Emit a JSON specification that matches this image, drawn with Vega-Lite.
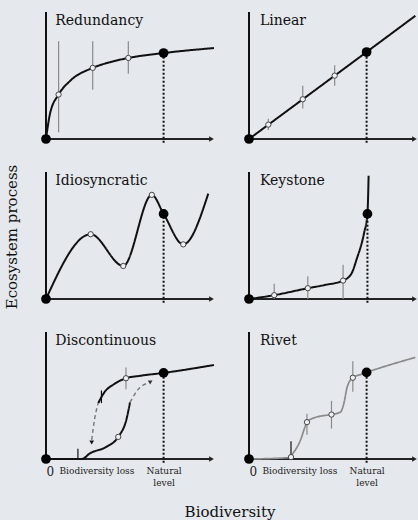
{
  "$schema": "https://vega.github.io/schema/vega-lite/v6.json",
  "background": "#e5e8ec",
  "padding": {"left": 4, "top": 11, "right": 0, "bottom": 2},
  "bounds": "flush",
  "data": {"values": [
    {"r":1,"c":1,"k":"ax","x":0,"y":0,"x2":0.985,"y2":1},
    {"r":1,"c":1,"k":"title","x":0.055,"y":0.9,"t":"Redundancy"},
    {"r":1,"c":1,"k":"line","s":"main","sid":"p1","x":0,"y":0},
    {"r":1,"c":1,"k":"line","s":"main","sid":"p1","x":0.024,"y":0.2},
    {"r":1,"c":1,"k":"line","s":"main","sid":"p1","x":0.075,"y":0.35},
    {"r":1,"c":1,"k":"line","s":"main","sid":"p1","x":0.143,"y":0.457},
    {"r":1,"c":1,"k":"line","s":"main","sid":"p1","x":0.278,"y":0.56},
    {"r":1,"c":1,"k":"line","s":"main","sid":"p1","x":0.381,"y":0.605},
    {"r":1,"c":1,"k":"line","s":"main","sid":"p1","x":0.49,"y":0.638},
    {"r":1,"c":1,"k":"line","s":"main","sid":"p1","x":0.7,"y":0.677},
    {"r":1,"c":1,"k":"line","s":"main","sid":"p1","x":1.0,"y":0.716},
    {"r":1,"c":1,"k":"err","s":"gray","x":0.075,"y":0.054,"y2":0.77},
    {"r":1,"c":1,"k":"err","s":"gray","x":0.278,"y":0.388,"y2":0.77},
    {"r":1,"c":1,"k":"err","s":"gray","x":0.49,"y":0.514,"y2":0.77},
    {"r":1,"c":1,"k":"open","x":0.075,"y":0.35},
    {"r":1,"c":1,"k":"open","x":0.278,"y":0.56},
    {"r":1,"c":1,"k":"open","x":0.49,"y":0.638},
    {"r":1,"c":1,"k":"drop","x":0.7,"y":-0.03,"y2":0.677},
    {"r":1,"c":1,"k":"nat","x":0.7,"y":0.677},

    {"r":1,"c":2,"k":"ax","x":0,"y":0,"x2":0.985,"y2":1},
    {"r":1,"c":2,"k":"title","x":0.065,"y":0.9,"t":"Linear"},
    {"r":1,"c":2,"k":"line","s":"main","sid":"p2","x":0,"y":0},
    {"r":1,"c":2,"k":"line","s":"main","sid":"p2","x":0.7,"y":0.685},
    {"r":1,"c":2,"k":"line","s":"main","sid":"p2","x":0.99,"y":0.97},
    {"r":1,"c":2,"k":"err","s":"gray","x":0.115,"y":0.07,"y2":0.16},
    {"r":1,"c":2,"k":"err","s":"gray","x":0.32,"y":0.24,"y2":0.42},
    {"r":1,"c":2,"k":"err","s":"gray","x":0.51,"y":0.42,"y2":0.58},
    {"r":1,"c":2,"k":"open","x":0.115,"y":0.113},
    {"r":1,"c":2,"k":"open","x":0.32,"y":0.313},
    {"r":1,"c":2,"k":"open","x":0.51,"y":0.499},
    {"r":1,"c":2,"k":"drop","x":0.7,"y":-0.03,"y2":0.685},
    {"r":1,"c":2,"k":"nat","x":0.7,"y":0.685},

    {"r":2,"c":1,"k":"ax","x":0,"y":0,"x2":0.985,"y2":1},
    {"r":2,"c":1,"k":"title","x":0.055,"y":0.9,"t":"Idiosyncratic"},
    {"r":2,"c":1,"k":"line","s":"main","sid":"p3","x":0,"y":0},
    {"r":2,"c":1,"k":"line","s":"main","sid":"p3","x":0.266,"y":0.51},
    {"r":2,"c":1,"k":"line","s":"main","sid":"p3","x":0.46,"y":0.26},
    {"r":2,"c":1,"k":"line","s":"main","sid":"p3","x":0.63,"y":0.82},
    {"r":2,"c":1,"k":"line","s":"main","sid":"p3","x":0.7,"y":0.67},
    {"r":2,"c":1,"k":"line","s":"main","sid":"p3","x":0.817,"y":0.43},
    {"r":2,"c":1,"k":"line","s":"main","sid":"p3","x":0.966,"y":0.83},
    {"r":2,"c":1,"k":"open","x":0.266,"y":0.51},
    {"r":2,"c":1,"k":"open","x":0.46,"y":0.26},
    {"r":2,"c":1,"k":"open","x":0.63,"y":0.82},
    {"r":2,"c":1,"k":"open","x":0.817,"y":0.43},
    {"r":2,"c":1,"k":"drop","x":0.7,"y":-0.03,"y2":0.67},
    {"r":2,"c":1,"k":"nat","x":0.7,"y":0.67},

    {"r":2,"c":2,"k":"ax","x":0,"y":0,"x2":0.985,"y2":1},
    {"r":2,"c":2,"k":"title","x":0.065,"y":0.9,"t":"Keystone"},
    {"r":2,"c":2,"k":"line","s":"main","sid":"p4","x":0,"y":0},
    {"r":2,"c":2,"k":"line","s":"main","sid":"p4","x":0.15,"y":0.03},
    {"r":2,"c":2,"k":"line","s":"main","sid":"p4","x":0.35,"y":0.085},
    {"r":2,"c":2,"k":"line","s":"main","sid":"p4","x":0.45,"y":0.11},
    {"r":2,"c":2,"k":"line","s":"main","sid":"p4","x":0.56,"y":0.145},
    {"r":2,"c":2,"k":"line","s":"main","sid":"p4","x":0.61,"y":0.2},
    {"r":2,"c":2,"k":"line","s":"main","sid":"p4","x":0.64,"y":0.31},
    {"r":2,"c":2,"k":"line","s":"main","sid":"p4","x":0.685,"y":0.52},
    {"r":2,"c":2,"k":"line","s":"main","sid":"p4","x":0.705,"y":0.67},
    {"r":2,"c":2,"k":"line","s":"main","sid":"p4","x":0.712,"y":0.97},
    {"r":2,"c":2,"k":"err","s":"gray","x":0.15,"y":0.0,"y2":0.12},
    {"r":2,"c":2,"k":"err","s":"gray","x":0.35,"y":0.0,"y2":0.18},
    {"r":2,"c":2,"k":"err","s":"gray","x":0.56,"y":0.0,"y2":0.27},
    {"r":2,"c":2,"k":"open","x":0.15,"y":0.03},
    {"r":2,"c":2,"k":"open","x":0.35,"y":0.085},
    {"r":2,"c":2,"k":"open","x":0.56,"y":0.145},
    {"r":2,"c":2,"k":"drop","x":0.705,"y":-0.03,"y2":0.67},
    {"r":2,"c":2,"k":"nat","x":0.705,"y":0.67},

    {"r":3,"c":1,"k":"ax","x":0,"y":0,"x2":0.985,"y2":1},
    {"r":3,"c":1,"k":"title","x":0.055,"y":0.9,"t":"Discontinuous"},
    {"r":3,"c":1,"k":"line","s":"main","sid":"p5a","x":0,"y":0},
    {"r":3,"c":1,"k":"line","s":"main","sid":"p5a","x":0.213,"y":0.0},
    {"r":3,"c":1,"k":"line","s":"main","sid":"p5a","x":0.262,"y":0.045},
    {"r":3,"c":1,"k":"line","s":"main","sid":"p5a","x":0.361,"y":0.097},
    {"r":3,"c":1,"k":"line","s":"main","sid":"p5a","x":0.43,"y":0.174},
    {"r":3,"c":1,"k":"line","s":"main","sid":"p5a","x":0.48,"y":0.318},
    {"r":3,"c":1,"k":"line","s":"main","sid":"p5a","x":0.5,"y":0.446},
    {"r":3,"c":1,"k":"line","s":"main","sid":"p5b","x":0.311,"y":0.44},
    {"r":3,"c":1,"k":"line","s":"main","sid":"p5b","x":0.35,"y":0.53},
    {"r":3,"c":1,"k":"line","s":"main","sid":"p5b","x":0.4,"y":0.585},
    {"r":3,"c":1,"k":"line","s":"main","sid":"p5b","x":0.476,"y":0.636},
    {"r":3,"c":1,"k":"line","s":"main","sid":"p5b","x":0.56,"y":0.655},
    {"r":3,"c":1,"k":"line","s":"main","sid":"p5b","x":0.7,"y":0.678},
    {"r":3,"c":1,"k":"line","s":"main","sid":"p5b","x":1.0,"y":0.74},
    {"r":3,"c":1,"k":"line","s":"dash","sid":"p5c","x":0.272,"y":0.15},
    {"r":3,"c":1,"k":"line","s":"dash","sid":"p5c","x":0.29,"y":0.32},
    {"r":3,"c":1,"k":"line","s":"dash","sid":"p5c","x":0.311,"y":0.44},
    {"r":3,"c":1,"k":"line","s":"dash","sid":"p5d","x":0.5,"y":0.446},
    {"r":3,"c":1,"k":"line","s":"dash","sid":"p5d","x":0.55,"y":0.55},
    {"r":3,"c":1,"k":"line","s":"dash","sid":"p5d","x":0.61,"y":0.6},
    {"r":3,"c":1,"k":"arrdown","x":0.272,"y":0.13},
    {"r":3,"c":1,"k":"arrup","x":0.62,"y":0.607},
    {"r":3,"c":1,"k":"err","s":"gray","x":0.476,"y":0.55,"y2":0.72},
    {"r":3,"c":1,"k":"err","s":"main","x":0.19,"y":0.0,"y2":0.08},
    {"r":3,"c":1,"k":"err","s":"main","x":0.33,"y":0.44,"y2":0.54},
    {"r":3,"c":1,"k":"open","x":0.476,"y":0.636},
    {"r":3,"c":1,"k":"open","x":0.43,"y":0.174},
    {"r":3,"c":1,"k":"drop","x":0.7,"y":-0.03,"y2":0.678},
    {"r":3,"c":1,"k":"nat","x":0.7,"y":0.678},

    {"r":3,"c":2,"k":"ax","x":0,"y":0,"x2":0.985,"y2":1},
    {"r":3,"c":2,"k":"title","x":0.065,"y":0.9,"t":"Rivet"},
    {"r":3,"c":2,"k":"line","s":"gray","sid":"p6","x":0,"y":0},
    {"r":3,"c":2,"k":"line","s":"gray","sid":"p6","x":0.23,"y":0.01},
    {"r":3,"c":2,"k":"line","s":"gray","sid":"p6","x":0.27,"y":0.06},
    {"r":3,"c":2,"k":"line","s":"gray","sid":"p6","x":0.31,"y":0.161},
    {"r":3,"c":2,"k":"line","s":"gray","sid":"p6","x":0.33,"y":0.24},
    {"r":3,"c":2,"k":"line","s":"gray","sid":"p6","x":0.345,"y":0.29},
    {"r":3,"c":2,"k":"line","s":"gray","sid":"p6","x":0.37,"y":0.315},
    {"r":3,"c":2,"k":"line","s":"gray","sid":"p6","x":0.468,"y":0.346},
    {"r":3,"c":2,"k":"line","s":"gray","sid":"p6","x":0.491,"y":0.35},
    {"r":3,"c":2,"k":"line","s":"gray","sid":"p6","x":0.545,"y":0.37},
    {"r":3,"c":2,"k":"line","s":"gray","sid":"p6","x":0.565,"y":0.44},
    {"r":3,"c":2,"k":"line","s":"gray","sid":"p6","x":0.585,"y":0.57},
    {"r":3,"c":2,"k":"line","s":"gray","sid":"p6","x":0.618,"y":0.64},
    {"r":3,"c":2,"k":"line","s":"gray","sid":"p6","x":0.668,"y":0.667},
    {"r":3,"c":2,"k":"line","s":"gray","sid":"p6","x":0.7,"y":0.682},
    {"r":3,"c":2,"k":"line","s":"gray","sid":"p6","x":0.99,"y":0.8},
    {"r":3,"c":2,"k":"err","s":"main","x":0.25,"y":0.0,"y2":0.14},
    {"r":3,"c":2,"k":"err","s":"gray","x":0.345,"y":0.19,"y2":0.357},
    {"r":3,"c":2,"k":"err","s":"gray","x":0.491,"y":0.24,"y2":0.458},
    {"r":3,"c":2,"k":"err","s":"gray","x":0.618,"y":0.53,"y2":0.77},
    {"r":3,"c":2,"k":"open","x":0.25,"y":0.015},
    {"r":3,"c":2,"k":"open","x":0.345,"y":0.29},
    {"r":3,"c":2,"k":"open","x":0.491,"y":0.35},
    {"r":3,"c":2,"k":"open","x":0.618,"y":0.64},
    {"r":3,"c":2,"k":"drop","x":0.7,"y":-0.03,"y2":0.682},
    {"r":3,"c":2,"k":"nat","x":0.7,"y":0.682}
  ]},
  "facet": {
    "row": {"field": "r", "type": "ordinal", "header": {"title": "Ecosystem process", "labels": false, "titleFont": "DejaVu Serif", "titleFontSize": 15, "titleFontWeight": "normal", "titleColor": "#111", "titlePadding": 16}},
    "column": {"field": "c", "type": "ordinal", "header": {"title": "Biodiversity", "labels": false, "titleOrient": "bottom", "labelOrient": "bottom", "titleFont": "DejaVu Serif", "titleFontSize": 15, "titleFontWeight": "normal", "titleColor": "#111", "titlePadding": 8}}
  },
  "spacing": {"row": 33, "column": 35},
  "spec": {
    "width": 168,
    "height": 127,
    "encoding": {
      "x": {"field": "x", "type": "quantitative", "scale": {"domain": [0, 1], "nice": false, "zero": false},
        "axis": {"title": null, "values": [0, 0.3, 0.7], "domain": false, "ticks": false, "grid": false,
          "labelExpr": "datum.value == 0 ? '0' : (datum.value < 0.5 ? 'Biodiversity loss' : ['Natural', 'level'])",
          "labelFont": "DejaVu Serif", "labelColor": "#222",
          "labelFontSize": {"condition": {"test": "datum.value == 0", "value": 12}, "value": 9},
          "labelPadding": 7, "labelBaseline": "top", "labelLineHeight": 12}},
      "y": {"field": "y", "type": "quantitative", "scale": {"domain": [0, 1], "nice": false, "zero": false}, "axis": null}
    },
    "layer": [
      {"transform": [{"filter": "datum.k == 'ax'"}], "mark": {"type": "rule", "color": "#111", "strokeWidth": 2}, "encoding": {"y2": {"field": "y2"}}},
      {"transform": [{"filter": "datum.k == 'ax'"}], "mark": {"type": "rule", "color": "#222", "strokeWidth": 2}, "encoding": {"x2": {"field": "x2"}}},
      {"transform": [{"filter": "datum.k == 'ax'"}], "mark": {"type": "point", "shape": "triangle-right", "filled": true, "color": "#222", "size": 30, "opacity": 1}, "encoding": {"x": {"field": "x2", "type": "quantitative"}}},
      {"transform": [{"filter": "datum.k == 'err'"}], "mark": {"type": "rule", "strokeWidth": 1.2}, "encoding": {"y2": {"field": "y2"}, "color": {"field": "s", "type": "nominal", "scale": {"domain": ["main", "gray", "dash"], "range": ["#111111", "#8a8a8a", "#777777"]}, "legend": null}}},
      {"transform": [{"filter": "datum.k == 'line'"}], "mark": {"type": "line", "interpolate": "monotone"},
        "encoding": {
          "detail": {"field": "sid"},
          "color": {"field": "s", "type": "nominal", "scale": {"domain": ["main", "gray", "dash"], "range": ["#111111", "#8a8a8a", "#777777"]}, "legend": null},
          "strokeDash": {"field": "s", "type": "nominal", "scale": {"domain": ["main", "gray", "dash"], "range": [[1, 0], [1, 0], [4, 3]]}, "legend": null},
          "strokeWidth": {"field": "s", "type": "nominal", "scale": {"domain": ["main", "gray", "dash"], "range": [2, 1.4, 1.5]}, "legend": null}
        }},
      {"transform": [{"filter": "datum.k == 'drop'"}], "mark": {"type": "rule", "color": "#111", "strokeWidth": 2, "strokeDash": [2, 2]}, "encoding": {"y2": {"field": "y2"}}},
      {"transform": [{"filter": "datum.k == 'arrdown'"}], "mark": {"type": "point", "shape": "triangle-down", "filled": true, "color": "#111", "size": 22, "opacity": 1}, "encoding": {}},
      {"transform": [{"filter": "datum.k == 'arrup'"}], "mark": {"type": "point", "shape": "triangle", "angle": 60, "filled": true, "color": "#333", "size": 22, "opacity": 1}, "encoding": {}},
      {"transform": [{"filter": "datum.k == 'open'"}], "mark": {"type": "point", "shape": "circle", "filled": true, "fill": "#eef0f3", "stroke": "#444", "strokeWidth": 1, "size": 28, "opacity": 1}, "encoding": {}},
      {"transform": [{"filter": "datum.k == 'nat' || (datum.k == 'ax')"}], "mark": {"type": "point", "shape": "circle", "filled": true, "color": "#000", "size": 95, "opacity": 1}, "encoding": {}},
      {"transform": [{"filter": "datum.k == 'title'"}], "mark": {"type": "text", "align": "left", "baseline": "alphabetic", "font": "DejaVu Serif", "fontSize": 14, "color": "#111"}, "encoding": {"text": {"field": "t"}}}
    ]
  },
  "config": {"view": {"stroke": null}}
}
